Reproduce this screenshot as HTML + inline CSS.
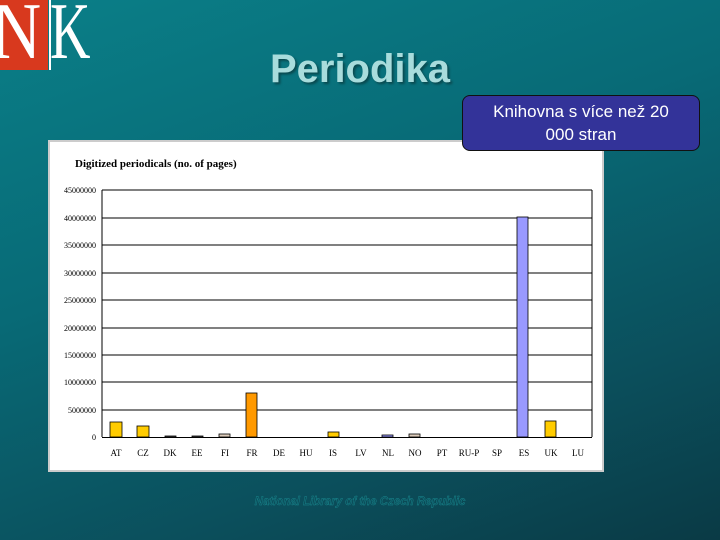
<!DOCTYPE html><html><head><style>
body{margin:0;width:720px;height:540px;overflow:hidden;font-family:"Liberation Sans",sans-serif;
background:linear-gradient(160deg,#0a7f88 0%,#086a76 40%,#0b4f5c 75%,#0a3a45 100%);position:relative}
.a{position:absolute}
</style></head><body>
<div class="a" style="left:0;top:0;width:48px;height:70px;background:#d8391e"></div>
<div class="a" style="left:49px;top:0;width:2px;height:70px;background:#fff"></div>
<div class="a" style="left:-8px;top:-8px;font-family:'Liberation Serif',serif;font-size:80px;color:#fff;line-height:80px;transform:scaleX(0.85);transform-origin:0 0">N</div>
<div class="a" style="left:50px;top:-8px;font-family:'Liberation Serif',serif;font-size:80px;color:#fff;line-height:80px;transform:scaleX(0.7);transform-origin:0 0">K</div>
<div class="a" style="left:0;width:720px;top:47px;text-align:center;font-size:40px;font-weight:bold;color:#a8dcdc;text-shadow:2px 2px 2px #0a4a50">Periodika</div>
<div class="a" style="left:48px;top:140px;width:552px;height:328px;background:#fff;border:2px solid #ccc"></div>
<div class="a" style="left:462px;top:95px;width:238px;height:56px;background:#333399;border:1.5px solid #111;border-radius:8px;color:#fff;font-size:17px;text-align:center;line-height:23px;padding-top:4px;box-sizing:border-box">Knihovna s více než 20<br>000 stran</div>
<svg class="a" style="left:0;top:0" width="720" height="540" font-family="Liberation Serif,serif">
<text x="75" y="167" font-size="11" font-weight="bold">Digitized periodicals (no. of pages)</text>
<g stroke="#000" stroke-width="1">
<line x1="102" y1="190" x2="592" y2="190"/><line x1="102" y1="218" x2="592" y2="218"/><line x1="102" y1="245" x2="592" y2="245"/><line x1="102" y1="273" x2="592" y2="273"/><line x1="102" y1="300" x2="592" y2="300"/><line x1="102" y1="328" x2="592" y2="328"/><line x1="102" y1="355" x2="592" y2="355"/><line x1="102" y1="382" x2="592" y2="382"/><line x1="102" y1="410" x2="592" y2="410"/><line x1="102" y1="437.5" x2="592" y2="437.5"/>
<line x1="102" y1="190" x2="102" y2="437"/><line x1="592" y1="190" x2="592" y2="437"/>
</g>
<g font-size="8" text-anchor="end">
<text x="96" y="193">45000000</text><text x="96" y="221">40000000</text><text x="96" y="248">35000000</text><text x="96" y="276">30000000</text><text x="96" y="303">25000000</text><text x="96" y="331">20000000</text><text x="96" y="358">15000000</text><text x="96" y="385">10000000</text><text x="96" y="413">5000000</text><text x="96" y="440">0</text>
</g>
<g stroke="#000" stroke-width="0.8">
<rect x="110" y="422" width="12" height="15" fill="#ffcc00"/>
<rect x="137" y="426" width="12" height="11" fill="#ffcc00"/>
<rect x="165" y="436" width="11" height="1.5" fill="#333"/>
<rect x="192" y="436" width="11" height="1.5" fill="#333"/>
<rect x="219" y="434" width="11" height="3" fill="#ddccbb"/>
<rect x="246" y="393" width="11" height="44" fill="#ff9900"/>
<rect x="328" y="432" width="11" height="5" fill="#ffcc00"/>
<rect x="382" y="435" width="11" height="2" fill="#9999ff"/>
<rect x="409" y="434" width="11" height="3" fill="#ddccbb"/>
<rect x="517" y="217" width="11" height="220" fill="#9999ff"/>
<rect x="545" y="421" width="11" height="16" fill="#ffcc00"/>
</g>
<g font-size="9" text-anchor="middle">
<text x="116" y="456">AT</text><text x="143" y="456">CZ</text><text x="170" y="456">DK</text><text x="197" y="456">EE</text><text x="225" y="456">FI</text><text x="252" y="456">FR</text><text x="279" y="456">DE</text><text x="306" y="456">HU</text><text x="333" y="456">IS</text><text x="361" y="456">LV</text><text x="388" y="456">NL</text><text x="415" y="456">NO</text><text x="442" y="456">PT</text><text x="469" y="456">RU-P</text><text x="497" y="456">SP</text><text x="524" y="456">ES</text><text x="551" y="456">UK</text><text x="578" y="456">LU</text>
</g>
<text x="360" y="505" font-family="Liberation Sans,sans-serif" font-size="11.5" font-weight="bold" font-style="italic" fill="#0b4f5c" stroke="#1a8a90" stroke-width="0.4" text-anchor="middle">National Library of the Czech Republic</text>
</svg>
</body></html>
